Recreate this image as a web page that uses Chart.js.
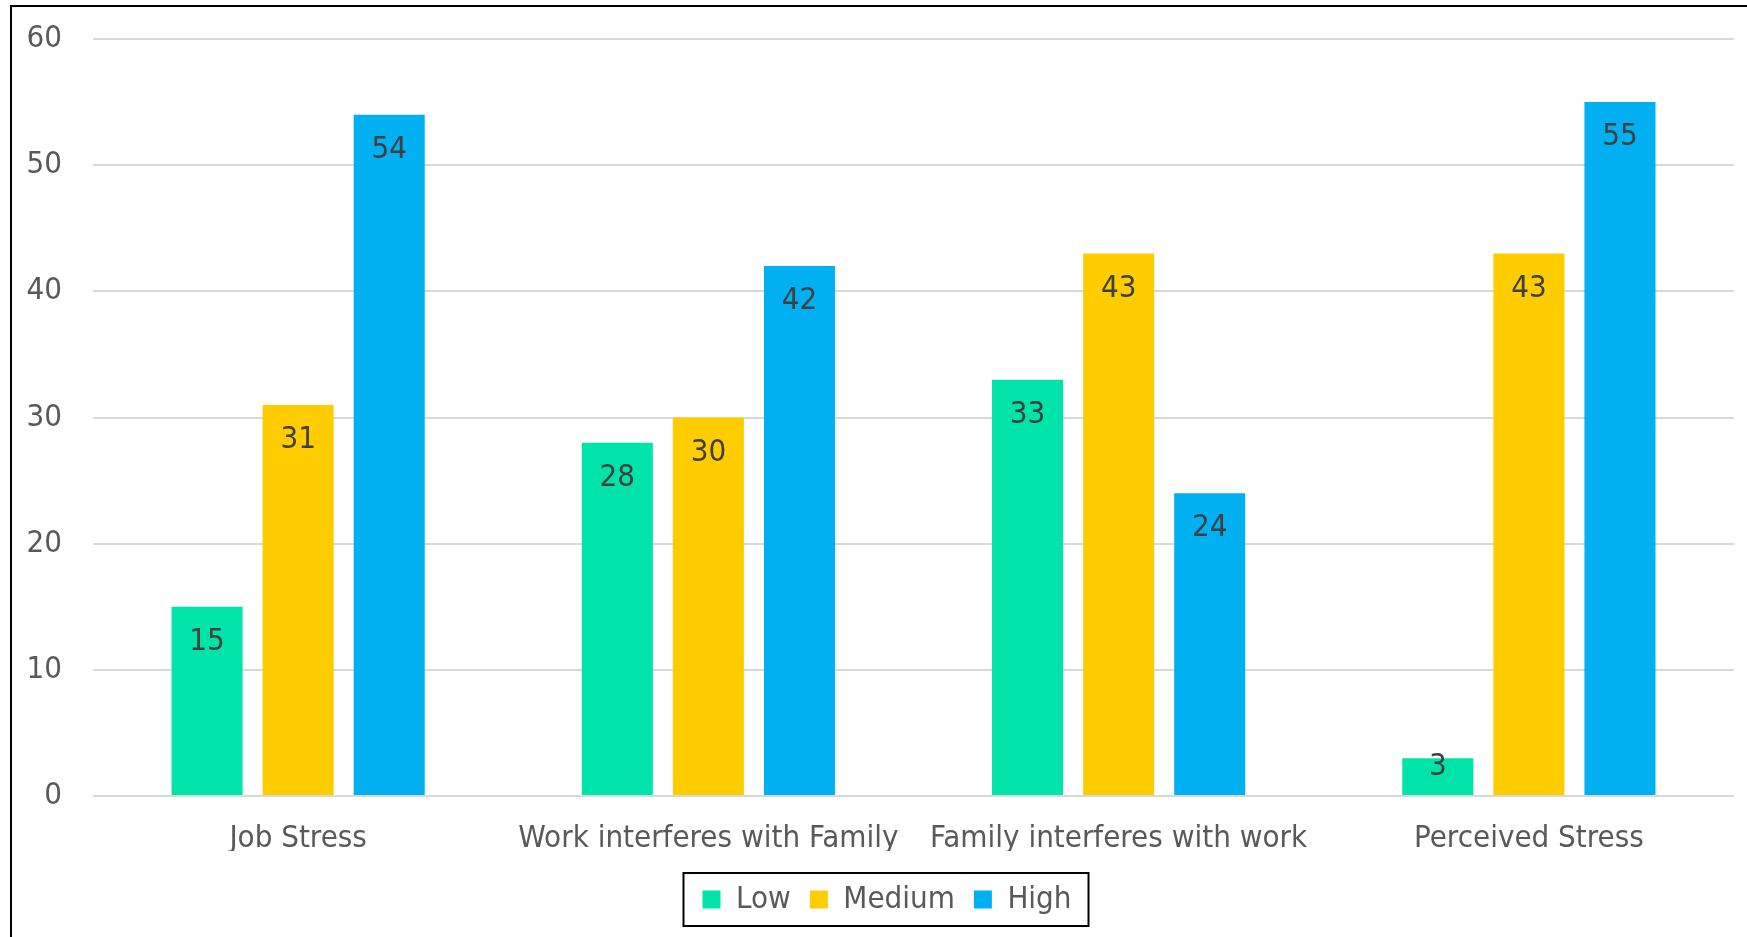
<!DOCTYPE html>
<html>
<head>
<meta charset="utf-8">
<title>Stress levels by measure</title>
<script src="https://cdn.jsdelivr.net/npm/chart.js@4.4.1/dist/chart.umd.min.js"></script>
<style>
  html, body { margin: 0; padding: 0; background: #ffffff; overflow: hidden; }
  #wrap { position: relative; width: 1747px; height: 937px; }
</style>
</head>
<body>
<div id="wrap"><canvas id="c" width="1747" height="937"></canvas></div>
<script>
// Categories and series
const categories = ['Job Stress', 'Work interferes with Family', 'Family interferes with work', 'Perceived Stress'];
const lowValues = [15, 28, 33, 3];
const mediumValues = [31, 30, 43, 43];
const highValues = [54, 42, 24, 55];
const seriesNames = ['Low', 'Medium', 'High'];
const yTickValues = [0, 10, 20, 30, 40, 50, 60];

const FONT_FAMILY = '"DejaVu Sans Condensed", "DejaVu Sans", sans-serif';
const FONT_SIZE = 31;
const TEXT_GREY = '#595959';
const LABEL_GREY = '#404040';

// Thin black frame on the left and top edges of the canvas
const framePlugin = {
  id: 'frame',
  afterDraw(chart) {
    const ctx = chart.ctx;
    ctx.save();
    ctx.strokeStyle = '#000000';
    ctx.lineWidth = 2;
    ctx.beginPath();
    ctx.moveTo(11, chart.height);
    ctx.lineTo(11, 6);
    ctx.lineTo(chart.width, 6);
    ctx.stroke();
    ctx.restore();
  }
};

// Legend sits a little right of the canvas centre and slightly lower
const legendPlacePlugin = {
  id: 'legendPlace',
  afterLayout(chart) {
    const lg = chart.legend;
    if (!lg) return;
    lg.left = 40;
    lg.top += 14;
    lg.bottom += 14;
  }
};

// Box around the legend items
const legendBoxPlugin = {
  id: 'legendBox',
  afterDraw(chart) {
    const boxes = chart.legend && chart.legend.legendHitBoxes;
    if (!boxes || !boxes.length) return;
    const first = boxes[0];
    const last = boxes[boxes.length - 1];
    const left = first.left - 19;
    const right = last.left + last.width + 17;
    const cy = first.top + first.height / 2;
    const ctx = chart.ctx;
    ctx.save();
    ctx.strokeStyle = '#000000';
    ctx.lineWidth = 2;
    ctx.strokeRect(left, cy - 26.5, right - left, 53);
    ctx.restore();
  }
};

// Value labels placed inside the top end of each bar
const valueLabelPlugin = {
  id: 'valueLabels',
  afterDatasetsDraw(chart) {
    const ctx = chart.ctx;
    ctx.save();
    ctx.fillStyle = LABEL_GREY;
    ctx.font = FONT_SIZE + 'px ' + FONT_FAMILY;
    ctx.textAlign = 'center';
    ctx.textBaseline = 'middle';
    chart.data.datasets.forEach((ds, di) => {
      const meta = chart.getDatasetMeta(di);
      meta.data.forEach((bar, i) => {
        const y = Math.min(bar.y + 35, bar.base - 28);
        ctx.fillText(String(ds.data[i]), bar.x, y);
      });
    });
    ctx.restore();
  }
};

new Chart(document.getElementById('c'), {
  type: 'bar',
  data: {
    labels: categories,
    datasets: [
      { label: seriesNames[0], data: lowValues, backgroundColor: '#00E3A9' },
      { label: seriesNames[1], data: mediumValues, backgroundColor: '#FFCC00' },
      { label: seriesNames[2], data: highValues, backgroundColor: '#00B0F0' }
    ]
  },
  options: {
    responsive: false,
    animation: false,
    categoryPercentage: 0.666,
    barPercentage: 0.78,
    layout: { padding: { left: 11, right: 13, top: 39, bottom: 26 } },
    plugins: {
      legend: {
        position: 'bottom',
        labels: {
          boxWidth: 18,
          boxHeight: 18,
          padding: 19,
          color: TEXT_GREY,
          font: { family: FONT_FAMILY, size: FONT_SIZE }
        }
      },
      tooltip: { enabled: false }
    },
    scales: {
      x: {
        afterFit(scale) { scale.height = 55; },
        grid: { display: false, drawTicks: false },
        border: { display: false },
        ticks: { color: TEXT_GREY, font: { family: FONT_FAMILY, size: FONT_SIZE }, padding: 24, maxRotation: 0 }
      },
      y: {
        min: 0,
        max: 60,
        afterBuildTicks(scale) { scale.ticks = yTickValues.map(v => ({ value: v })); },
        afterFit(scale) { scale.width = 82; },
        grid: { color: '#D9D9D9', lineWidth: 2, drawTicks: true, tickLength: 31, tickColor: 'rgba(0,0,0,0)' },
        border: { display: false },
        ticks: { color: TEXT_GREY, font: { family: FONT_FAMILY, size: FONT_SIZE }, padding: 0 }
      }
    }
  },
  plugins: [framePlugin, legendPlacePlugin, legendBoxPlugin, valueLabelPlugin]
});
</script>
</body>
</html>
